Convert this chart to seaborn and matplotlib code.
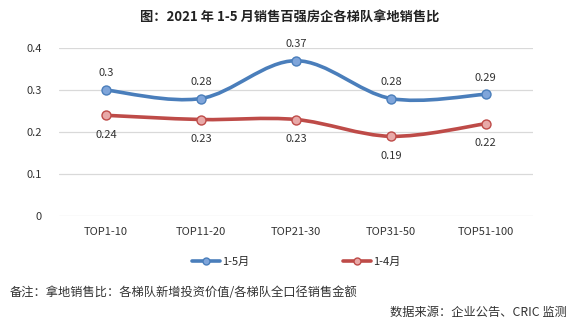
import numpy as np
import pandas as pd
import matplotlib
matplotlib.use("Agg")
import matplotlib.pyplot as plt
from matplotlib.path import Path
from matplotlib.patches import PathPatch
from matplotlib.lines import Line2D
import seaborn as sns

categories = ["TOP1-10", "TOP11-20", "TOP21-30", "TOP31-50", "TOP51-100"]
s_may = [0.30, 0.28, 0.37, 0.28, 0.29]
s_apr = [0.24, 0.23, 0.23, 0.19, 0.22]
series_names = ["1-5月", "1-4月"]
yticks = [0, 0.1, 0.2, 0.3, 0.4]
title = "图：2021 年 1-5 月销售百强房企各梯队拿地销售比"
note = "备注：拿地销售比：各梯队新增投资价值/各梯队全口径销售金额"
source = "数据来源：企业公告、CRIC 监测"

sns.set_theme(style="white")
plt.rcParams['font.family'] = ['Noto Sans CJK SC', 'DejaVu Sans']

line_cols = ["#4A7EBB", "#BE4B48"]
face_cols = ["#7FA5DA", "#E8A9A8"]

fig = plt.figure(figsize=(5.74, 3.25), dpi=100)
ax = fig.add_axes([0.102, 0.335, 0.827, 0.517])

df = pd.DataFrame({"cat": categories * 2,
                   "x": list(range(len(categories))) * 2,
                   "val": s_may + s_apr,
                   "series": [series_names[0]] * 5 + [series_names[1]] * 5})


def smooth_path(xs, ys):
    pts = np.column_stack([xs, ys]).astype(float)
    n = len(pts)
    verts = [pts[0]]
    codes = [Path.MOVETO]
    for i in range(n - 1):
        p0 = pts[i - 1] if i > 0 else pts[i]
        p1 = pts[i]
        p2 = pts[i + 1]
        p3 = pts[i + 2] if i + 2 < n else pts[i + 1]
        c1 = p1 + (p2 - p0) / 6.0
        c2 = p2 - (p3 - p1) / 6.0
        verts += [c1, c2, p2]
        codes += [Path.CURVE4] * 3
    return Path(verts, codes)


for k, name in enumerate(series_names):
    sub = df[df.series == name]
    ax.add_patch(PathPatch(smooth_path(sub.x.values, sub.val.values),
                           facecolor="none", edgecolor=line_cols[k], lw=2.6,
                           zorder=3, capstyle="round"))
    sns.scatterplot(data=sub, x="x", y="val", ax=ax, s=42, color=face_cols[k],
                    edgecolor=line_cols[k], linewidth=1.0, zorder=4, legend=False)
    for xv, yv in zip(sub.x.values, sub.val.values):
        off = 12 if k == 0 else -14
        ax.annotate(f"{yv:g}", (xv, yv), xytext=(0, off), textcoords="offset points",
                    ha="center", va="center", fontsize=8, color="#333333")

ax.set_xlim(-0.5, len(categories) - 0.5)
ax.set_ylim(0, 0.4)
ax.set_yticks(yticks)
ax.set_yticklabels([f"{t:g}" for t in yticks])
ax.set_xticks(range(len(categories)))
ax.set_xticklabels(categories)
ax.tick_params(axis="both", labelsize=8, colors="#333333", length=0, pad=8)
ax.tick_params(axis="y", pad=12)
ax.grid(axis="y", color="#D9D9D9", lw=0.9)
ax.set_axisbelow(True)
for sp in ax.spines.values():
    sp.set_visible(False)
ax.set_xlabel("")
ax.set_ylabel("")

handles = [Line2D([0], [0], color=line_cols[k], lw=2.6, marker="o", markersize=5,
                  markerfacecolor=face_cols[k], markeredgecolor=line_cols[k])
           for k in range(2)]
fig.legend(handles, series_names, loc="center", bbox_to_anchor=(0.516, 1 - 262 / 325),
           ncol=2, frameon=False, fontsize=8, handlelength=2.5, columnspacing=8.4,
           handletextpad=0.2)

fig.text(0.505, 1 - 18 / 325, title, ha="center", va="center", fontsize=9.5,
         fontweight="bold", color="#222222")
fig.text(10 / 574, 1 - 292 / 325, note, ha="left", va="center", fontsize=8.8, color="#333333")
fig.text(567 / 574, 1 - 312 / 325, source, ha="right", va="center", fontsize=8.8, color="#333333")

fig.savefig("out.png", dpi=100)
